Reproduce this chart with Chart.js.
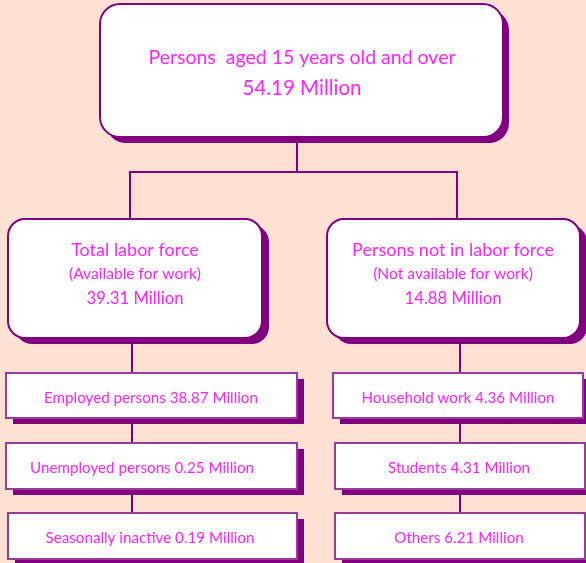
<!DOCTYPE html>
<html>
<head>
<meta charset="utf-8">
<script src="https://cdn.jsdelivr.net/npm/chart.js@4.4.1/dist/chart.umd.min.js"></script>
<style>
  html, body { margin: 0; padding: 0; background: #ffe1d4; }
  #chart { display: block; }
</style>
</head>
<body>
<canvas id="chart" width="586" height="563"></canvas>
<script>
// node texts and values
const titles = ['Persons  aged 15 years old and over', 'Total labor force', 'Persons not in labor force',
  'Employed persons', 'Unemployed persons', 'Seasonally inactive',
  'Household work', 'Students', 'Others']
const notes = ['', '(Available for work)', '(Not available for work)', '', '', '', '', '', '']
const values = [54.19, 39.31, 14.88, 38.87, 0.25, 0.19, 4.36, 4.31, 6.21]
const unit = 'Million'

// layout in scale units: box [x0, y0, x1, y1], corner radius, text center x
const boxes = [
  [100, 4, 503, 137], [8, 219, 262, 338], [327, 219, 580, 338],
  [6, 373, 297, 418], [6, 443, 297, 489], [8, 513, 297, 559],
  [333, 373, 583, 418], [335, 443, 585, 489], [335, 513, 585, 559]
]
const radius = [20, 17, 17, 0, 0, 0, 0, 0, 0]
const textX = [302, 135, 453, 151, 142, 150, 458, 459, 459]
// connector polylines
const links = [
  [[297, 137], [297, 172]],
  [[130, 219], [130, 172], [457, 172], [457, 219]],
  [[132, 338], [132, 513]],
  [[460, 338], [460, 513]]
]

const PURPLE = '#800080'
const PINK = '#ff22ff'
const FONT = 'Lato'

function roundBox(ctx, x0, y0, x1, y1, r) {
  ctx.beginPath()
  ctx.moveTo(x0 + r, y0)
  ctx.lineTo(x1 - r, y0)
  ctx.arcTo(x1, y0, x1, y0 + r, r)
  ctx.lineTo(x1, y1 - r)
  ctx.arcTo(x1, y1, x1 - r, y1, r)
  ctx.lineTo(x0 + r, y1)
  ctx.arcTo(x0, y1, x0, y1 - r, r)
  ctx.lineTo(x0, y0 + r)
  ctx.arcTo(x0, y0, x0 + r, y0, r)
  ctx.closePath()
}

const orgChart = {
  id: 'orgChart',
  beforeDraw(chart) {
    const ctx = chart.ctx
    ctx.save()
    ctx.fillStyle = '#ffe1d4'
    ctx.fillRect(0, 0, chart.width, chart.height)
    ctx.restore()
  },
  afterDraw(chart) {
    const ctx = chart.ctx
    const sx = chart.scales.x, sy = chart.scales.y
    const px = v => sx.getPixelForValue(v)
    const py = v => sy.getPixelForValue(v)
    ctx.save()
    ctx.strokeStyle = PURPLE
    ctx.lineWidth = 2
    links.forEach(pts => {
      ctx.beginPath()
      pts.forEach((p, i) => i ? ctx.lineTo(px(p[0]), py(p[1])) : ctx.moveTo(px(p[0]), py(p[1])))
      ctx.stroke()
    })
    boxes.forEach((b, i) => {
      const x0 = px(b[0]), y0 = py(b[1]), x1 = px(b[2]), y1 = py(b[3])
      const off = i == 0 ? 6 : 7
      ctx.fillStyle = PURPLE
      roundBox(ctx, x0 + off, y0 + 6, x1 + off, y1 + 6, radius[i])
      ctx.fill()
      ctx.fillStyle = '#ffffff'
      roundBox(ctx, x0, y0, x1, y1, radius[i])
      ctx.fill()
      ctx.lineWidth = 2
      ctx.strokeStyle = i < 3 ? PURPLE : '#9a3a9a'
      ctx.stroke()

      const cx = px(textX[i])
      ctx.fillStyle = PINK
      ctx.textAlign = 'center'
      ctx.textBaseline = 'middle'
      if (i == 0) {
        ctx.font = '19.5px ' + FONT
        ctx.fillText(titles[i], cx, py(58))
        ctx.font = '20.5px ' + FONT
        ctx.fillText(values[i].toFixed(2) + ' ' + unit, cx, py(88))
      } else if (i < 3) {
        ctx.font = '18px ' + FONT
        ctx.fillText(titles[i], cx, py(250))
        ctx.font = '15.6px ' + FONT
        ctx.fillText(notes[i], cx, py(274))
        ctx.font = '16.7px ' + FONT
        ctx.fillText(values[i].toFixed(2) + ' ' + unit, cx, py(299))
      } else {
        ctx.font = '15.2px ' + FONT
        ctx.fillText(titles[i] + ' ' + values[i].toFixed(2) + ' ' + unit, cx, (y0 + y1) / 2 + 2.5)
      }
    })
    ctx.restore()
  }
}

new Chart(document.getElementById('chart'), {
  type: 'scatter',
  data: { datasets: [] },
  options: {
    responsive: false,
    animation: false,
    layout: { padding: 0 },
    scales: {
      x: { type: 'linear', min: 0, max: 586, display: false },
      y: { type: 'linear', min: 0, max: 563, reverse: true, display: false }
    },
    plugins: { legend: { display: false }, tooltip: { enabled: false } }
  },
  plugins: [orgChart]
})
</script>
</body>
</html>
